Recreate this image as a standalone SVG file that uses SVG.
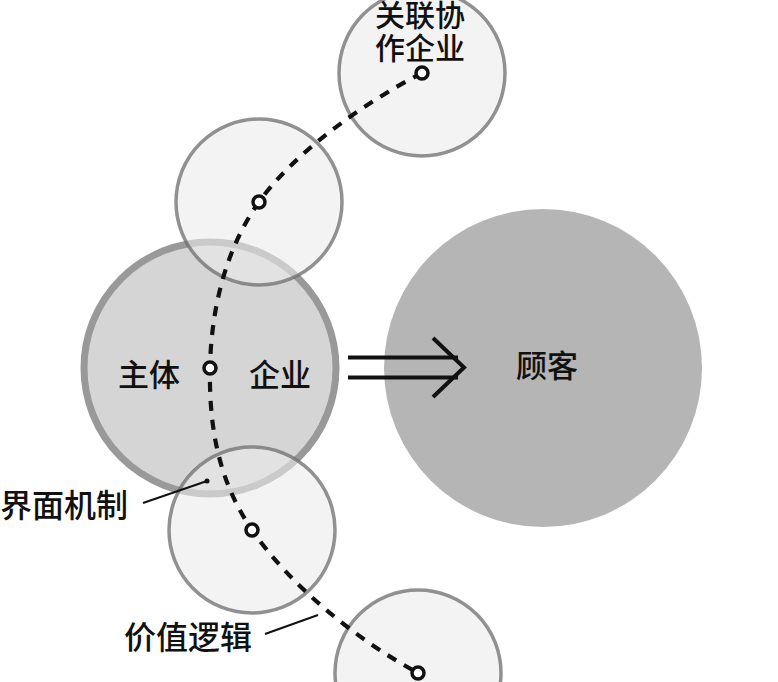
<svg xmlns="http://www.w3.org/2000/svg" width="778" height="682" viewBox="0 0 778 682">
<style>
.sat{fill:#ebebeb;fill-opacity:0.6;stroke:#6e6e6e;stroke-opacity:0.75;stroke-width:3.5}
.dot{fill:#fff;stroke:#111;stroke-width:3.5}
.lbl{font-family:"Noto Sans CJK SC","Noto Sans CJK TC",sans-serif;font-size:31px;font-weight:500;fill:#111}
.top{font-size:30px}
.side{font-size:32px}
.lead{stroke:#111;stroke-width:2;fill:none}
</style>
<rect width="778" height="682" fill="#fff"/>
<g id="customer">
<circle cx="543" cy="368" r="159" fill="#b5b5b5"/>
<text class="lbl" x="547" y="377" text-anchor="middle">顾客</text>
</g>
<g id="core">
<circle cx="210" cy="368" r="126" fill="#d5d5d5" stroke="#999" stroke-width="7"/>
<text class="lbl" x="149" y="386" text-anchor="middle">主体</text>
<text class="lbl" x="280" y="386" text-anchor="middle">企业</text>
</g>
<g id="partner1">
<circle class="sat" cx="422" cy="73" r="83"/>
<text class="lbl top" x="420" y="26" text-anchor="middle">关联协</text>
<text class="lbl top" x="420" y="59" text-anchor="middle">作企业</text>
</g>
<g id="partner2"><circle class="sat" cx="259" cy="202" r="83"/></g>
<g id="partner3"><circle class="sat" cx="252" cy="530" r="83"/></g>
<g id="partner4"><circle class="sat" cx="418" cy="673" r="83"/></g>
<g id="connectors">
<path d="M422,73 C362,104 294,153 259,202 C224,251 211,313 210,368 C209,423 217,479 252,530 C287,581 350,636 418,673" fill="none" stroke="#111" stroke-width="4.2" stroke-dasharray="10,9"/>
<g id="flow-arrow" fill="none" stroke="#111" stroke-width="4">
<line x1="348" y1="357.5" x2="458" y2="357.5"/>
<line x1="348" y1="377.5" x2="458" y2="377.5"/>
<polyline points="433,338 464,367.5 433,397"/>
</g>
</g>
<g id="dots">
<circle class="dot" cx="422" cy="73" r="6"/>
<circle class="dot" cx="259" cy="202" r="6"/>
<circle class="dot" cx="210" cy="368" r="6"/>
<circle class="dot" cx="252" cy="530" r="6"/>
<circle class="dot" cx="418" cy="673" r="6"/>
</g>
<g id="label-interface">
<text class="lbl side" x="0" y="517">界面机制</text>
<line class="lead" x1="143" y1="503" x2="207" y2="481"/>
<circle cx="207" cy="481" r="2.5" fill="#111"/>
</g>
<g id="label-value">
<text class="lbl side" x="124" y="649">价值逻辑</text>
<line class="lead" x1="265" y1="634" x2="318" y2="615"/>
</g>
</svg>
